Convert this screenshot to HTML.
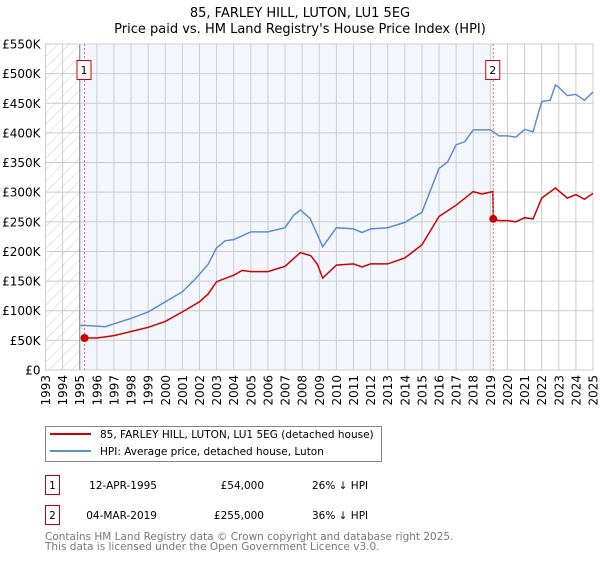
<!DOCTYPE html>
<html><head><meta charset="utf-8"><style>
body{margin:0;background:#fff;font-family:"Liberation Sans","DejaVu Sans",sans-serif}
svg text{font-family:"DejaVu Sans","Liberation Sans",sans-serif}
</style></head><body>
<svg id="c" width="600" height="560" viewBox="0 0 600 560" xmlns="http://www.w3.org/2000/svg">
<defs><pattern id="hatch" width="8" height="8" patternUnits="userSpaceOnUse" patternTransform="rotate(45)"><line x1="0" y1="0" x2="0" y2="8" stroke="#ccc" stroke-width="1"/></pattern></defs>
<text x="300" y="17" text-anchor="middle" font-size="13">85, FARLEY HILL, LUTON, LU1 5EG</text>
<text x="300" y="33" text-anchor="middle" font-size="13">Price paid vs. HM Land Registry's House Price Index (HPI)</text>
<g id="plot"></g>
<g>
<rect x="45.5" y="426.5" width="336" height="35" fill="#fff" stroke="#888"/>
<line x1="50" y1="434" x2="91" y2="434" stroke="#cc0000" stroke-width="2"/>
<text x="100" y="438" font-size="10.5">85, FARLEY HILL, LUTON, LU1 5EG (detached house)</text>
<line x1="50" y1="451" x2="91" y2="451" stroke="#5b8fd0" stroke-width="2"/>
<text x="100" y="455" font-size="10.5">HPI: Average price, detached house, Luton</text>
</g>
<g font-size="10.5">
<rect x="45.5" y="475.5" width="14" height="19" fill="#fff" stroke="#cc0000"/>
<text x="52.5" y="489" text-anchor="middle">1</text>
<text x="157" y="489" text-anchor="end">12-APR-1995</text>
<text x="264" y="489" text-anchor="end">£54,000</text>
<text x="312" y="489">26% ↓ HPI</text>
<rect x="45.5" y="505.5" width="14" height="19" fill="#fff" stroke="#cc0000"/>
<text x="52.5" y="519" text-anchor="middle">2</text>
<text x="157" y="519" text-anchor="end">04-MAR-2019</text>
<text x="264" y="519" text-anchor="end">£255,000</text>
<text x="312" y="519">36% ↓ HPI</text>
</g>
<text x="45" y="540" font-size="10.5" fill="#777">Contains HM Land Registry data © Crown copyright and database right 2025.</text>
<text x="45" y="550" font-size="10.5" fill="#777">This data is licensed under the Open Government Licence v3.0.</text>
</svg>
<script>
const hpiYears=[1995.0,1995.3,1996,1996.5,1997,1998,1999,2000,2001,2001.8,2002.5,2003,2003.5,2004,2005,2006,2007,2007.5,2007.9,2008.46,2008.9,2009.2,2010,2011,2011.5,2012,2013,2014,2015,2016,2016.5,2017,2017.5,2018,2018.5,2019,2019.2,2019.5,2020,2020.5,2021,2021.5,2022,2022.5,2022.8,2023,2023.5,2024,2024.5,2025];
const hpiValues=[75,75,74,73,78,87,98,115,132,155,178,206,218,220,233,233,240,261,270,256,228,208,240,238,232,238,240,249,266,340,351,380,385,405,405,405,401,395,395,393,406,402,453,455,481,477,463,465,455,469];
const propYears=[1995.28,1996,1997,1998,1999,2000,2001,2002,2002.5,2003,2004,2004.5,2005,2006,2007,2007.9,2008.5,2008.9,2009.2,2010,2011,2011.5,2012,2013,2014,2015,2016,2017,2018,2018.5,2019.15,2019.17,2019.5,2020,2020.5,2021,2021.5,2022,2022.8,2023.5,2024,2024.5,2025];
const propValues=[54,54,58,65,72,82,98,115,128,149,160,168,166,166,175,198,193,178,155,177,179,174,179,179,189,211,259,278,301,297,301,255,252,252,250,257,255,290,307,290,296,288,298];
const saleYears=[1995.28,2019.17];
const saleValues=[54,255];
const saleLabels=["1","2"];
const yTicks=[0,50,100,150,200,250,300,350,400,450,500,550];
const yTickLabels=["£0","£50K","£100K","£150K","£200K","£250K","£300K","£350K","£400K","£450K","£500K","£550K"];
const xTicks=[1993,1994,1995,1996,1997,1998,1999,2000,2001,2002,2003,2004,2005,2006,2007,2008,2009,2010,2011,2012,2013,2014,2015,2016,2017,2018,2019,2020,2021,2022,2023,2024,2025];

const X0=45.5,X1=593,Y0=370,Y1=44;
const x=v=>X0+(v-1993)/(2025-1993)*(X1-X0);
const y=v=>Y0-v/550*(Y0-Y1);
const NS="http://www.w3.org/2000/svg";
const g=document.getElementById('plot');
function mk(t,a,p){const e=document.createElementNS(NS,t);for(const k in a)e.setAttribute(k,a[k]);(p||g).appendChild(e);return e;}

let e;
e=mk('rect',{x:X0,y:Y1,width:X1-X0,height:Y0-Y1,fill:'#fff'});


e=mk('rect',{x:x(1995),y:Y1,width:x(saleYears[1])-x(1995),height:Y0-Y1,fill:'#eef3fc',opacity:0.7});


e=mk('rect',{x:X0,y:Y1,width:x(1995)-X0,height:Y0-Y1,fill:'url(#hatch)'});


for(let i=0;i<xTicks.length;i++){
  const xv=x(xTicks[i]);
  e=mk('line',{x1:xv,x2:xv,y1:Y1,y2:Y0,stroke:'#ccc','stroke-width':1});
  
  
  e=mk('text',{transform:`translate(${xv+4.5},375) rotate(-90)`,'text-anchor':'end','font-size':12});
  e.textContent=xTicks[i];
  
  
}
for(let i=0;i<yTicks.length;i++){
  const yv=y(yTicks[i]);
  e=mk('line',{x1:X0,x2:X1,y1:yv,y2:yv,stroke:'#ccc','stroke-width':1});
  
  
  e=mk('text',{x:X0-5,y:yv+4.5,'text-anchor':'end','font-size':12});
  e.textContent=yTickLabels[i];
  
  
}
e=mk('line',{x1:x(1995),x2:x(1995),y1:Y1,y2:Y0,stroke:'#888','stroke-width':1});


e=mk('rect',{x:X0,y:Y1,width:X1-X0,height:Y0-Y1,fill:'none',stroke:'#ccc'});



function path(xs,vs){return xs.map((t,i)=>(i?'L':'M')+x(t).toFixed(1)+','+y(vs[i]).toFixed(1)).join('');}
e=mk('path',{d:path(hpiYears,hpiValues),fill:'none',stroke:'#5b8fd0','stroke-width':1.5});


e=mk('path',{d:path(propYears,propValues),fill:'none',stroke:'#cc0000','stroke-width':1.5});



for(let i=0;i<saleYears.length;i++){
  const sx=x(saleYears[i]);
  e=mk('line',{x1:sx,x2:sx,y1:Y1,y2:Y0,stroke:'#f07070','stroke-width':1,'stroke-dasharray':'2,2'});
  
  
  e=mk('circle',{cx:sx,cy:y(saleValues[i]),r:4,fill:'#cc0000'});
  
  
  e=mk('rect',{x:sx-7.5,y:60.5,width:14,height:19,fill:'#fff',stroke:'#cc0000'});
  
  
  e=mk('text',{x:sx-0.5,y:74,'text-anchor':'middle','font-size':11});
  e.textContent=saleLabels[i];
  
  
}
</script>
</body></html>
